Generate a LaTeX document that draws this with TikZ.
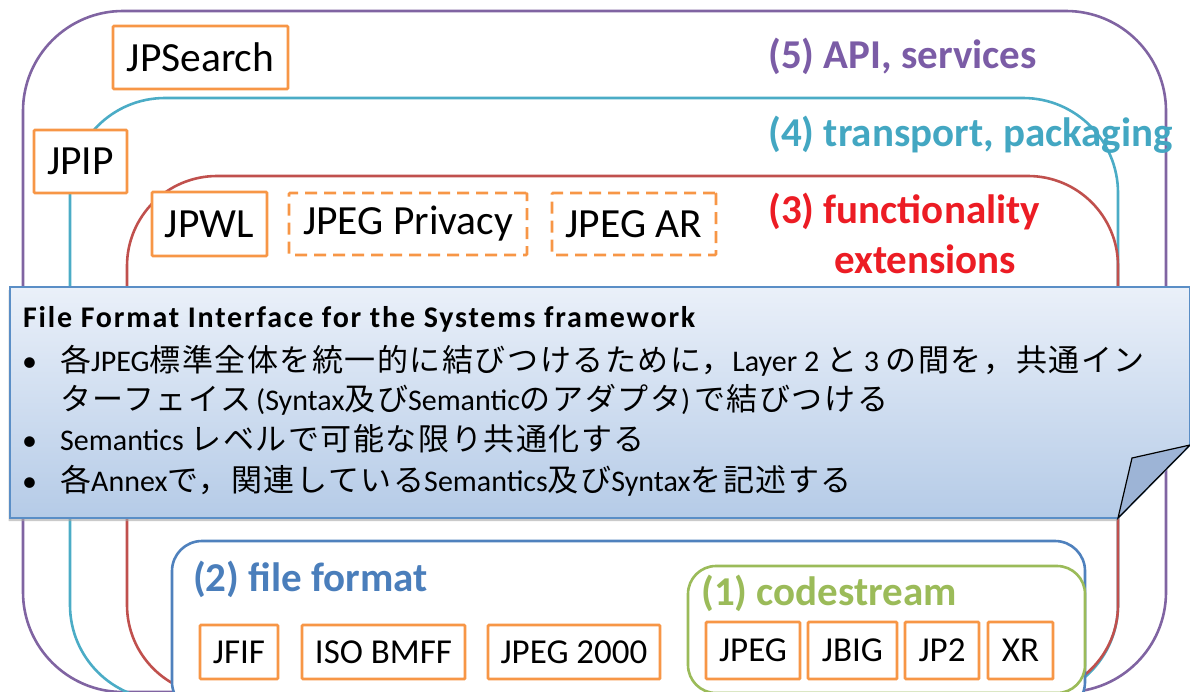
\documentclass[tikz,border=0pt]{standalone}
\usepackage{fontspec}
\setmainfont{Carlito}
\newfontfamily\jpfont[LetterSpace=5]{Noto Sans CJK JP}
\newfontfamily\titlefont[LetterSpace=6]{Carlito}
\newcommand{\ja}[1]{{\jpfont\fontsize{31}{36}\selectfont #1}}
\usetikzlibrary{shadows}
\definecolor{apipurple}{HTML}{8064A2}
\definecolor{apitext}{HTML}{7B5CA6}
\definecolor{transcyan}{HTML}{4BACC6}
\definecolor{transtext}{HTML}{43A7C2}
\definecolor{funcred}{HTML}{C0504D}
\definecolor{functext}{HTML}{EC1C24}
\definecolor{ffblue}{HTML}{4F81BD}
\definecolor{fftext}{HTML}{4A7EBB}
\definecolor{csgreen}{HTML}{9BBB59}
\definecolor{boxorange}{HTML}{F79646}
\definecolor{notetop}{HTML}{EAF0F9}
\definecolor{notebottom}{HTML}{B5CBE7}
\definecolor{noteline}{HTML}{5A8EC6}
\definecolor{notefold}{HTML}{9DB4D6}
\begin{document}
\begin{tikzpicture}[x=1pt, y=-1pt,
  layer/.style={line width=2.6pt, rounded corners=#1},
  stdbox/.style={draw=boxorange, line width=2.8pt, fill=white, rounded corners=1pt, inner sep=0pt, font=\fontsize{41.5}{48}\selectfont},
  newbox/.style={stdbox, dash pattern=on 12pt off 7pt},
  smallbox/.style={stdbox, font=\fontsize{35}{42}\selectfont},
  laylabel/.style={anchor=west, inner sep=0pt, font=\fontsize{41}{48}\selectfont\bfseries},
  noteline/.style={anchor=base west, inner sep=0pt, font=\fontsize{30}{36}\selectfont}]
\useasboundingbox (0,0) rectangle (1190,691);
\clip (0,0) rectangle (1190,691);
% layers 5,4,3
\draw[layer=100pt, draw=apipurple] (23,11) rectangle (1166,692);
\draw[layer=95pt, draw=transcyan] (70,98) rectangle (1118,700);
\draw[layer=90pt, draw=funcred] (127,176) rectangle (1118,695);
% layers 2,1
\draw[layer=30pt, draw=ffblue, fill=white] (172,541) rectangle (1085,712);
\draw[layer=28pt, draw=csgreen, fill=white] (688,566) rectangle (1085,693);
\begin{scope}[every node/.style={laylabel}]
\node[text=apitext] (l5) at (768,56) {(5) API, services};
\node[text=transtext] (l4) at (768,135) {(4) transport, packaging};
\node[text=functext] (l3) at (768,212) {(3) functionality};
\node[text=functext] (l3b) at (834,259) {extensions};
\node[text=fftext] (l2) at (193,579) {(2) file format};
\node[text=csgreen] (l1) at (701,593) {(1) codestream};
\end{scope}
\begin{scope}
\node[stdbox, minimum width=175, minimum height=63] (jpsearch) at (200.5,57.5) {JPSearch};
\node[stdbox, minimum width=93, minimum height=63] (jpip) at (80.5,161.5) {JPIP};
\node[stdbox, minimum width=115, minimum height=64] (jpwl) at (209.5,224) {JPWL};
\node[newbox, minimum width=238, minimum height=62] (privacy) at (408,224) {JPEG Privacy};
\node[newbox, minimum width=164, minimum height=62] (ar) at (634,224) {JPEG AR};
%\node[smallbox] (x) at (,) {};
\node[smallbox, minimum width=78, minimum height=54] (jfif) at (239,652) {JFIF};
\node[smallbox, minimum width=163, minimum height=54] (bmff) at (383.5,652) {ISO BMFF};
\node[smallbox, minimum width=172, minimum height=54] (j2k) at (574,652) {JPEG 2000};
\node[smallbox, minimum width=94, minimum height=57] (jpeg) at (753,650.5) {JPEG};
\node[smallbox, minimum width=89, minimum height=57] (jbig) at (852.5,650.5) {JBIG};
\node[smallbox, minimum width=74, minimum height=57] (jp2) at (942,650.5) {JP2};
\node[smallbox, minimum width=65, minimum height=57] (xr) at (1020.5,650.5) {XR};
\end{scope}
% note on top
\coordinate (ntl) at (10,287);
\coordinate (ntr) at (1190,287);
\coordinate (nfr) at (1190,445);
\coordinate (nfb) at (1118,518);
\coordinate (nfi) at (1132,458);
\coordinate (nbl) at (10,518);
\path[draw=noteline, line width=1.6pt, top color=notetop, bottom color=notebottom,
  drop shadow={shadow xshift=-1.5pt, shadow yshift=-3pt, fill=black!35, opacity=.6}]
  (ntl) -- (ntr) -- (nfr) -- (nfb) -- (nbl) -- cycle;
\draw[noteline, line width=1.2pt, fill=notefold] (nfb) -- (nfi) -- (nfr) -- cycle;
\begin{scope}[every node/.style={noteline}]
\node[font=\fontsize{30}{36}\titlefont\bfseries] (title) at (23,327) {File Format Interface for the Systems framework};
\node (b1) at (22,371) {\textbullet};
\node (t1) at (60,371) {\ja{各}JPEG\ja{標準全体を統一的に結びつけるために，}Layer 2 \ja{と} 3 \ja{の間を，共通イン}};
\node (t2) at (60,410) {\ja{ターフェイス}\hspace{5pt}(Syntax\ja{及び}Semantic\ja{のアダプタ})\hspace{4pt}\ja{で結びつける}};
\node (b3) at (22,450) {\textbullet};
\node (t3) at (60,450) {Semantics \ja{レベルで可能な限り共通化する}};
\node (b4) at (22,491) {\textbullet};
\node (t4) at (60,491) {\ja{各}Annex\ja{で，関連している}Semantics\ja{及び}Syntax\ja{を記述する}};
\end{scope}
\end{tikzpicture}
\end{document}
